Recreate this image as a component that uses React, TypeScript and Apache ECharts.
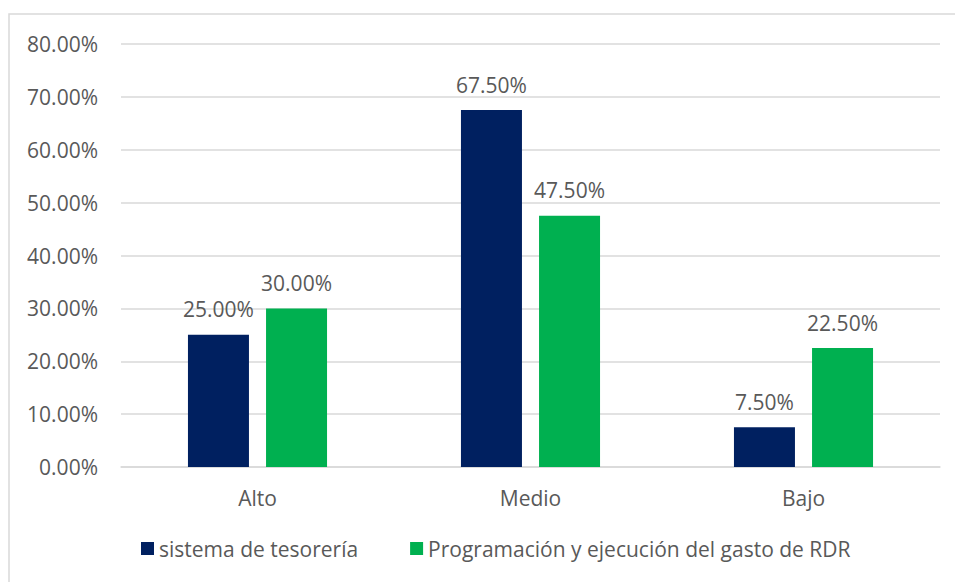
import React, { useEffect, useRef } from "react";
import * as echarts from "echarts";

const categories = ["Alto", "Medio", "Bajo"];
const seriesNames = ["sistema de tesorería", "Programación y ejecución del gasto de RDR"];
const tesoreria = [25.0, 67.5, 7.5];
const programacion = [30.0, 47.5, 22.5];
const seriesColors = ["#002060", "#00B050"];

const FONT = "'Open Sans', 'Noto Sans', sans-serif";
const TXT = "#595959";
const FS = 21;

export default function App() {
  const ref = useRef<HTMLDivElement>(null);
  useEffect(() => {
    const chart = echarts.init(ref.current!, null, { renderer: "svg" });
    const label = {
      show: true,
      position: "top",
      distance: 15,
      color: TXT,
      fontFamily: FONT,
      fontSize: FS,
      formatter: (p: any) => p.value.toFixed(2) + "%",
    };
    chart.setOption({
      animation: false,
      backgroundColor: "#ffffff",
      graphic: [
        {
          type: "rect",
          shape: { x: 9, y: 14, width: 1000, height: 700 },
          style: { fill: "none", stroke: "#d9d9d9", lineWidth: 1.5 },
          silent: true,
          z: -1,
        },
      ],
      grid: { left: 121, right: 15, top: 44, bottom: 115, containLabel: false },
      legend: {
        bottom: 18,
        left: 136,
        itemWidth: 13,
        itemHeight: 13,
        itemGap: 52,
        icon: "rect",
        textStyle: { color: TXT, fontFamily: FONT, fontSize: FS },
        data: seriesNames,
      },
      xAxis: {
        type: "category",
        data: categories,
        axisLine: { show: true, lineStyle: { color: "#d9d9d9", width: 1.5 } },
        axisTick: { show: false },
        axisLabel: { color: TXT, fontFamily: FONT, fontSize: FS, margin: 20 },
      },
      yAxis: {
        type: "value",
        min: 0,
        max: 80,
        interval: 10,
        axisLine: { show: false },
        axisTick: { show: false },
        splitLine: { lineStyle: { color: "#d9d9d9", width: 1.5 } },
        axisLabel: {
          color: TXT,
          fontFamily: FONT,
          fontSize: FS,
          margin: 23,
          formatter: (v: number) => v.toFixed(2) + "%",
        },
      },
      series: [
        {
          name: seriesNames[0],
          type: "bar",
          data: tesoreria,
          barWidth: 61,
          barGap: "28%",
          itemStyle: { color: seriesColors[0] },
          label,
        },
        {
          name: seriesNames[1],
          type: "bar",
          data: programacion,
          barWidth: 61,
          barGap: "28%",
          itemStyle: { color: seriesColors[1] },
          label,
        },
      ],
    });
    return () => chart.dispose();
  }, []);
  return (
    <div
      ref={ref}
      style={{ position: "fixed", left: 0, top: 0, width: 955, height: 582 }}
    />
  );
}
